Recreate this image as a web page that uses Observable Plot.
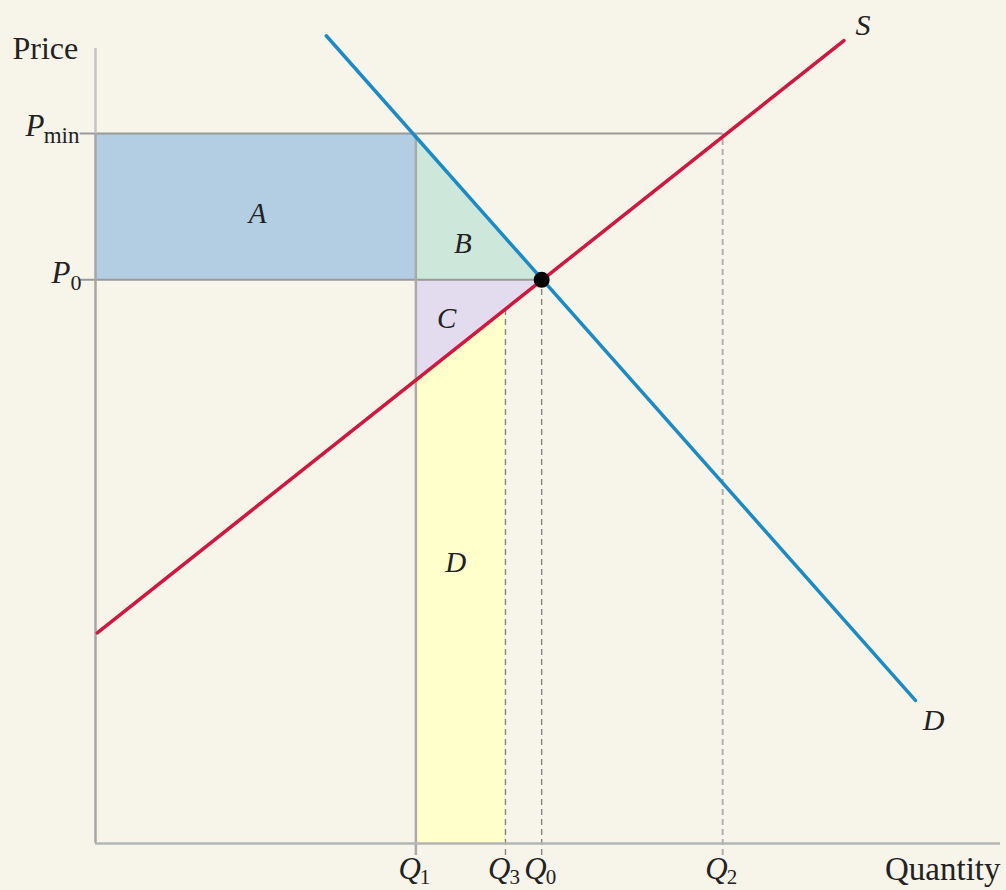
<!DOCTYPE html>
<html>
<head>
<meta charset="utf-8">
<script src="https://cdn.jsdelivr.net/npm/d3@7"></script>
<script src="https://cdn.jsdelivr.net/npm/@observablehq/plot@0.6"></script>
<style>
  html, body { margin: 0; padding: 0; background: #f7f5e9; }
</style>
</head>
<body>
<div id="chart"></div>
<script>
// Quantities (axis 0..100)
const qLetters = ["Q", "Q", "Q", "Q"];
const qSubs = ["1", "3", "0", "2"];
const qValues = [35.4, 45.3, 49.3, 69.3]; // Q1, Q3, Q0, Q2
// Prices
const pSubs = ["min", "0"];
const pValues = [89.3, 70.9]; // Pmin, P0
// Supply and demand curve endpoints
const supplyQ = [0.2, 82.7];
const supplyP = [26.5, 101.0];
const demandQ = [25.5, 90.6];
const demandP = [101.6, 18.0];
// Supply price at Q1 and Q3
const supplyAtQ1 = 58.2;
const supplyAtQ3 = 67.2;
// Region labels
const regionNames = ["A", "B", "C", "D"];
const regionQ = [17.9, 40.6, 38.8, 39.8];
const regionP = [79.2, 75.5, 66.0, 35.3];

const [Q1, Q3, Q0, Q2] = qValues;
const [Pmin, P0] = pValues;

const supply = supplyQ.map((q, i) => ({q, p: supplyP[i]}));
const demand = demandQ.map((q, i) => ({q, p: demandP[i]}));
const regions = regionNames.map((name, i) => ({name, q: regionQ[i], p: regionP[i]}));
const qTicks = qValues.map((q, i) => ({q, letter: qLetters[i], sub: qSubs[i]}));

const serif = "'Liberation Serif', 'DejaVu Serif', serif";

const chart = Plot.plot({
  width: 1006,
  height: 890,
  marginLeft: 95,
  marginRight: 6,
  marginTop: 48,
  marginBottom: 47,
  x: {domain: [0, 100], axis: null},
  y: {domain: [0, 100], axis: null},
  style: {background: "#f7f5e9", fontFamily: serif, color: "#222"},
  marks: [
    // Area A
    Plot.rect([{x1: 0, x2: Q1, y1: P0, y2: Pmin}], {x1: "x1", x2: "x2", y1: "y1", y2: "y2", fill: "#b3cde2"}),
    // Area B
    Plot.areaY([{q: Q1, lo: P0, hi: Pmin}, {q: Q0, lo: P0, hi: P0}], {x: "q", y1: "lo", y2: "hi", fill: "#cde8da"}),
    // Area C
    Plot.areaY([{q: Q1, lo: supplyAtQ1, hi: P0}, {q: Q0, lo: P0, hi: P0}], {x: "q", y1: "lo", y2: "hi", fill: "#e3dcee"}),
    // Area D
    Plot.areaY([{q: Q1, lo: 0, hi: supplyAtQ1}, {q: Q3, lo: 0, hi: supplyAtQ3}], {x: "q", y1: "lo", y2: "hi", fill: "#ffffcc"}),
    // Price reference lines (with tick into margin)
    Plot.ruleY([Pmin], {x1: -1.7, x2: Q2, stroke: "#9a9a9a", strokeWidth: 2}),
    Plot.ruleY([P0], {x1: -1.7, x2: Q0, stroke: "#9a9a9a", strokeWidth: 2}),
    // Quantity reference lines
    Plot.ruleX([Q1], {y1: -1.5, y2: Pmin, stroke: "#aaaaaa", strokeWidth: 2.5}),
    Plot.ruleX([Q3], {y1: -1.5, y2: supplyAtQ3, stroke: "#858585", strokeWidth: 1.4, strokeDasharray: "6,4"}),
    Plot.ruleX([Q0], {y1: -1.5, y2: P0, stroke: "#858585", strokeWidth: 1.4, strokeDasharray: "6,4"}),
    Plot.ruleX([Q2], {y1: -1.5, y2: Pmin, stroke: "#b0b0b0", strokeWidth: 2, strokeDasharray: "6,4"}),
    // Axes
    Plot.ruleX([0], {y1: Pmin, y2: 100, stroke: "#c4c4c4", strokeWidth: 2.5}),
    Plot.ruleX([0], {y1: 0, y2: Pmin, stroke: "#a6a6a6", strokeWidth: 2.5}),
    Plot.ruleY([0], {x1: 0, x2: 100, stroke: "#b4b4b4", strokeWidth: 2.5}),
    // Curves
    Plot.line(supply, {x: "q", y: "p", stroke: "#d3163f", strokeWidth: 3.5}),
    Plot.line(demand, {x: "q", y: "p", stroke: "#1b8bc6", strokeWidth: 3.5}),
    // Equilibrium dot
    Plot.dot([{q: Q0, p: P0}], {x: "q", y: "p", r: 8, fill: "#000", stroke: "none"}),
    // Axis titles
    Plot.text(["Price"], {x: 0, y: 100, text: d => d, dx: -83, dy: 10, textAnchor: "start", lineAnchor: "bottom", fontSize: 32}),
    Plot.text(["Quantity"], {x: 100, y: 0, text: d => d, dx: 0, dy: 36, textAnchor: "end", lineAnchor: "bottom", fontSize: 33}),
    // Price labels
    Plot.text([Pmin], {x: 0, y: d => d, text: ["P"], dx: -51, dy: 2, textAnchor: "end", lineAnchor: "bottom", fontSize: 31, fontStyle: "italic"}),
    Plot.text([Pmin], {x: 0, y: d => d, text: [pSubs[0]], dx: -16, dy: 9, textAnchor: "end", lineAnchor: "bottom", fontSize: 23}),
    Plot.text([P0], {x: 0, y: d => d, text: ["P"], dx: -25, dy: 3, textAnchor: "end", lineAnchor: "bottom", fontSize: 31, fontStyle: "italic"}),
    Plot.text([P0], {x: 0, y: d => d, text: [pSubs[1]], dx: -14, dy: 10, textAnchor: "end", lineAnchor: "bottom", fontSize: 22}),
    // Quantity labels
    Plot.text(qTicks, {x: "q", y: 0, text: "letter", dx: 5, dy: 35, textAnchor: "end", lineAnchor: "bottom", fontSize: 31, fontStyle: "italic"}),
    Plot.text(qTicks, {x: "q", y: 0, text: "sub", dx: 4, dy: 40, textAnchor: "start", lineAnchor: "bottom", fontSize: 21}),
    // Curve labels
    Plot.text([{q: 84.8, p: 102.9, t: "S"}], {x: "q", y: "p", text: "t", fontSize: 30, fontStyle: "italic"}),
    Plot.text([{q: 92.6, p: 15.5, t: "D"}], {x: "q", y: "p", text: "t", fontSize: 30, fontStyle: "italic"}),
    // Region labels
    Plot.text(regions, {x: "q", y: "p", text: "name", fontSize: 29, fontStyle: "italic"})
  ]
});
document.getElementById("chart").appendChild(chart);
</script>
</body>
</html>
